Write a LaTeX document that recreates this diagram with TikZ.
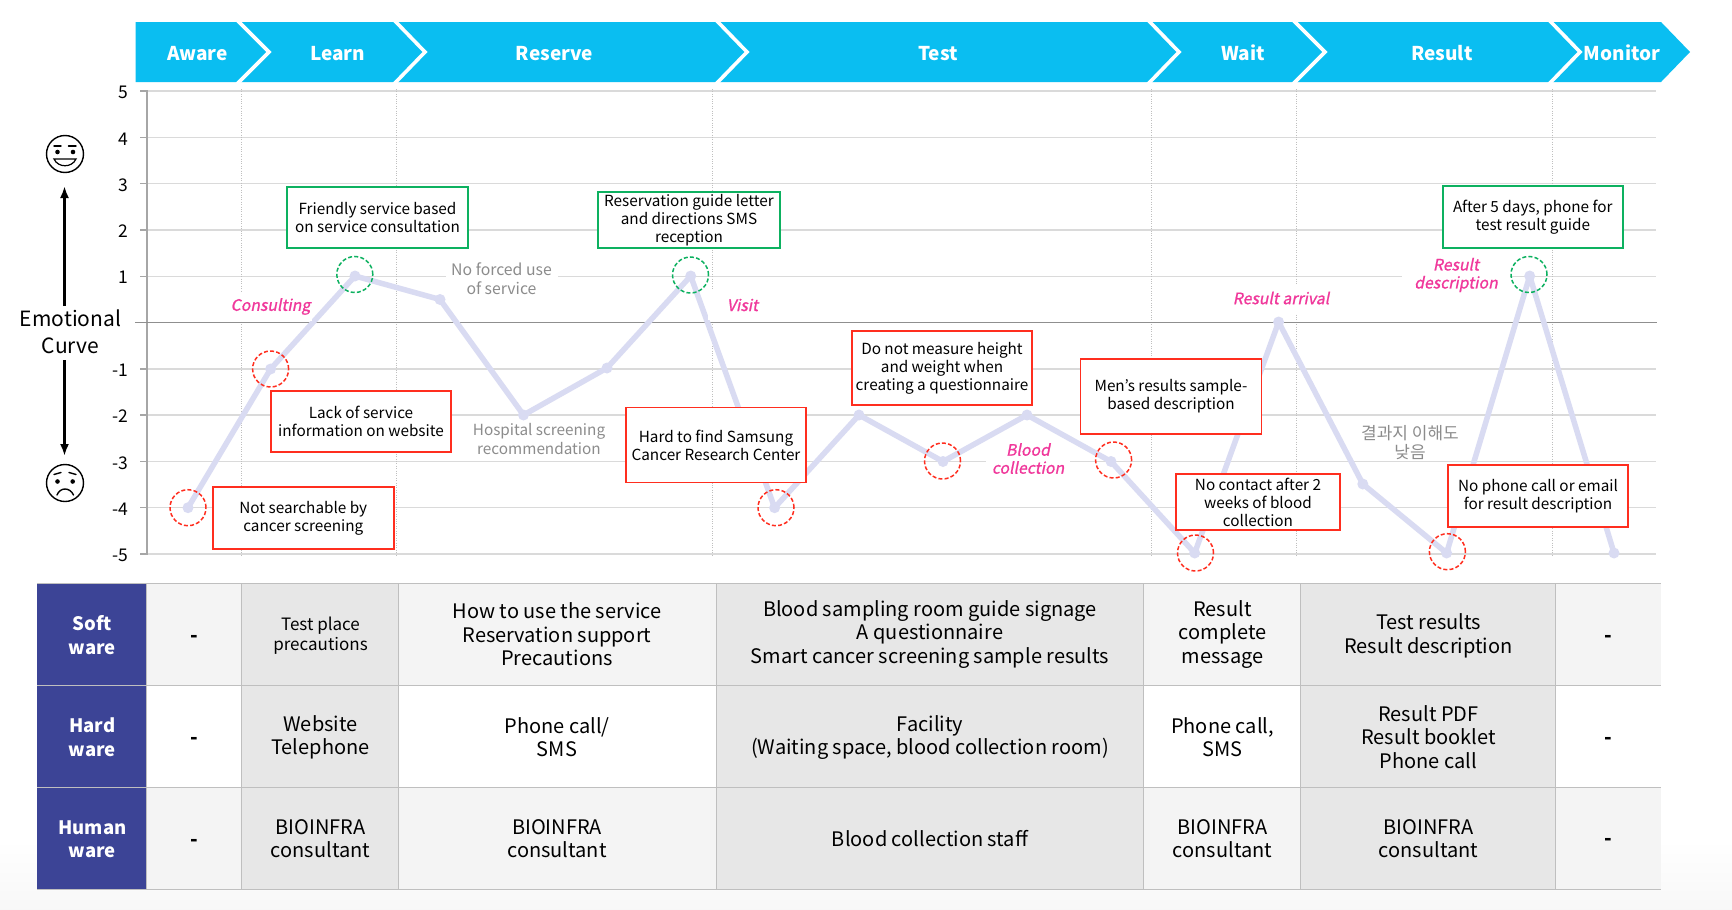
\documentclass[tikz,border=0pt]{standalone}
\usepackage{fontspec}
\setmainfont{Noto Sans CJK KR}
\newfontfamily\pinkfont[FakeSlant=0.2,FakeBold=1.0]{Noto Sans CJK KR}
\usetikzlibrary{arrows.meta}
\definecolor{chev}{HTML}{0ABEF1}
\definecolor{navy}{HTML}{3C4496}
\definecolor{redb}{HTML}{FF2E1F}
\definecolor{greenb}{HTML}{0DB160}
\definecolor{curvec}{HTML}{D9DBF2}
\definecolor{gridc}{HTML}{DADADA}
\definecolor{axisc}{HTML}{A6A6A6}
\definecolor{zeroc}{HTML}{8F8F8F}
\definecolor{tline}{HTML}{BFBFBF}
\definecolor{cellL}{HTML}{F4F4F4}
\definecolor{cellD}{HTML}{E7E7E7}
\definecolor{pink}{HTML}{F0389B}
\definecolor{greytxt}{HTML}{8C8C8C}
\tikzset{
  x=1pt,y=-1pt,
  every node/.style={inner sep=0pt,outer sep=0pt,align=center},
  chevtext/.style={text=white,font=\fontsize{19}{22}\selectfont\bfseries},
  ticktext/.style={anchor=east,font=\fontsize{17.5}{20}\selectfont},
  gridrule/.style={gridc,line width=1.2pt},
  stage/.style={draw=tline,line width=1pt,dash pattern=on 1pt off 1.4pt},
  curveline/.style={curvec,line width=5.5pt,line join=round},
  pt/.style={circle,fill=curvec,minimum size=11pt},
  ring/.style={circle,line width=1.5pt,minimum size=36pt,dash pattern=on 4pt off 2.2pt},
  badring/.style={ring,draw=redb},
  goodring/.style={ring,draw=greenb},
  callout/.style={fill=white,line width=1.8pt,font=\fontsize{15.3}{18}\selectfont},
  lowered/.style={execute at begin node={\rule{0pt}{17.5pt}}},
  badbox/.style={callout,draw=redb},
  goodbox/.style={callout,draw=greenb},
  pinktext/.style={fill=white,text=pink,font=\fontsize{15.8}{18}\selectfont\pinkfont},
  greytext/.style={fill=white,text=greytxt,font=\fontsize{15.8}{18.5}\selectfont},
  celltext/.style={font=\fontsize{20}{23.5}\selectfont},
  headtext/.style={text=white,font=\fontsize{18.5}{23.5}\selectfont\bfseries},
  dashtext/.style={font=\fontsize{20}{23.5}\selectfont\bfseries},
  tablerule/.style={tline,line width=1pt},
  facepen/.style={black,line width=1.4pt,line cap=round},
  bigarrow/.style={black,line width=2.4pt,-{Latex[length=12pt,width=9pt]}}
}
\begin{document}
\begin{tikzpicture}
\useasboundingbox (0,0) rectangle (1732,910);
\fill[white] (0,0) rectangle (1732,910);
\shade[top color=white,bottom color=black!3] (0,840) rectangle (1732,910);

% chevron band
\fill[chev] (135.5,22)--(1661,22)--(1690,52)--(1661,82)--(135.5,82)--cycle;
\foreach \a/\b in {237/269,394/425,716/747,1148/1179,1293/1325,1549/1580}
  \draw[white,line width=3.6pt,miter limit=10] (\a,20)--(\b,52)--(\a,84);
\node[chevtext] (sAware) at (197.5,54) {Aware};
\node[chevtext] (sLearn) at (337.5,54) {Learn};
\node[chevtext] (sReserve) at (554.5,54) {Reserve};
\node[chevtext] (sTest) at (938,54) {Test};
\node[chevtext] (sWait) at (1243,53) {Wait};
\node[chevtext] (sResult) at (1442,53) {Result};
\node[chevtext] (sMonitor) at (1622,53) {Monitor};

% grid
\foreach \v/\y in {5/91,4/137.3,3/183.6,2/230,1/276.2,-1/369,-2/415,-3/461.5,-4/507.7,-5/554}{
  \draw[gridrule] (146.6,\y)--(1656,\y);
  \draw[axisc,line width=1.4pt] (140,\y)--(146.6,\y);
  \node[ticktext] at (128,\y+1.5) {\v};
}
\foreach \x in {241,396,712,1151.6,1296,1552}
  \draw[stage] (\x,89)--(\x,555);
\draw[axisc,line width=2pt] (146.6,90)--(146.6,555);
\draw[zeroc,line width=1.7pt] (135,322.5)--(1657,322.5);

% curve
\coordinate (p1) at (188,507.7);
\coordinate (p2) at (270.6,369);
\coordinate (p3) at (355,276);
\coordinate (p4) at (440,299.5);
\coordinate (p5) at (523.5,415);
\coordinate (p6) at (607,368);
\coordinate (p7) at (690.7,276);
\coordinate (p8) at (774.6,507.7);
\coordinate (p9) at (859,415);
\coordinate (p10) at (943,461.5);
\coordinate (p11) at (1027,415);
\coordinate (p12) at (1111,461.5);
\coordinate (p13) at (1194.7,553);
\coordinate (p14) at (1278.6,322);
\coordinate (p15) at (1362.8,484);
\coordinate (p16) at (1446.6,553);
\coordinate (p17) at (1529.7,276);
\coordinate (p18) at (1614,553);
\draw[curveline] (p1)--(p2)--(p3)--(p4)--(p5)--(p6)--(p7)--(p8)--(p9)--(p10)--(p11)--(p12)--(p13)--(p14)--(p15)--(p16)--(p17)--(p18);
\foreach \i in {1,...,18} \node[pt] (m\i) at (p\i) {};

% rings
\node[badring] (c1) at (188,507.7) {};
\node[badring] (c2) at (270.6,369) {};
\node[goodring] (c3) at (354.8,274.5) {};
\node[goodring] (c4) at (690.5,275) {};
\node[badring] (c5) at (776,507.7) {};
\node[badring] (c6) at (942.5,461) {};
\node[badring] (c7) at (1113.6,460) {};
\node[badring] (c8) at (1195.5,553) {};
\node[badring] (c9) at (1447.4,551.7) {};
\node[goodring] (c10) at (1529,274.5) {};

% grey and pink labels
\node[greytext,minimum width=112pt] (gForced) at (501.5,278.5) {No forced use\\of service};
\node[greytext,minimum width=134pt,font=\fontsize{15.3}{18.5}\selectfont] (gHospital) at (539,439) {Hospital screening\\recommendation};
\node[greytext,fill=none,font=\fontsize{17}{19}\selectfont] (gKorean) at (1410,443) {결과지 이해도\\낮음};
\node[pinktext,minimum width=82pt,minimum height=28pt] (lConsult) at (270.5,306.5) {Consulting};
\node[pinktext,minimum width=70pt,minimum height=30pt] (lVisit) at (742.5,305) {Visit};
\node[pinktext,minimum width=84pt] (lBlood) at (1028,458.5) {Blood\\collection};
\node[pinktext,minimum height=29pt] (lArrival) at (1281,298) {Result arrival};
\node[pinktext,minimum width=108pt] (lDesc) at (1456,275) {Result\\description};

% callouts
\node[goodbox,minimum width=181pt,minimum height=61pt] (b1) at (377.5,217.3) {Friendly service based\\on service consultation};
\node[goodbox,lowered,minimum width=182pt,minimum height=56pt] (b2) at (689,220) {Reservation guide letter\\and directions SMS\\reception};
\node[goodbox,lowered,minimum width=180pt,minimum height=62pt] (b3) at (1532.8,217) {After 5 days, phone for\\test result guide};
\node[badbox,minimum width=180pt,minimum height=61pt] (b4) at (361,421.3) {Lack of service\\information on website};
\node[badbox,lowered,minimum width=181pt,minimum height=62pt] (b5) at (303.3,518) {Not searchable by\\cancer screening};
\node[badbox,minimum width=180.7pt,minimum height=75pt] (b6) at (716,445) {Hard to find Samsung\\Cancer Research Center};
\node[badbox,minimum width=180.2pt,minimum height=74pt] (b7) at (942,368) {Do not measure height\\and weight when\\creating a questionnaire};
\node[badbox,lowered,minimum width=181pt,minimum height=75pt] (b8) at (1171,396.5) {Men's results sample-\\based description};
\node[badbox,minimum width=164pt,minimum height=56pt] (b9) at (1258,502) {No contact after 2\\weeks of blood\\collection};
\node[badbox,lowered,minimum width=180pt,minimum height=62pt] (b10) at (1538,496) {No phone call or email\\for result description};

% left axis title and faces
\node[font=\fontsize{21}{27.5}\selectfont] (title) at (70.5,332) {Emotional\\Curve};
\coordinate (upstart) at (64.5,306);
\coordinate (upend) at (64.5,186);
\coordinate (downstart) at (64.5,360);
\coordinate (downend) at (64.5,456);
\draw[bigarrow] (upstart)--(upend);
\draw[bigarrow] (downstart)--(downend);
% happy face
\draw[facepen] (65,154) ellipse (18.5 and 18.5);
\draw[facepen] (54,146)--(61,146) (68.5,146)--(76,146);
\fill (57.5,152) circle (2.3);
\fill (73,152) circle (2.3);
\draw[facepen,fill=white,line width=1.2pt] (54,159) .. controls (58,168) and (72,168) .. (76,159) -- cycle;
% sad face
\draw[facepen] (65,483) ellipse (18.5 and 18.5);
\draw[facepen] (54,474.5)--(61,472.5) (69,472.5)--(76,474.5);
\fill (57.5,481.5) circle (2.3);
\fill (72.7,481.5) circle (2.3);
\draw[facepen] (57,495) .. controls (60,487) and (70,487) .. (73.5,495);

% table fills
\def\ya{583.5}\def\yb{685.3}\def\yc{787.3}\def\yd{889.3}
\foreach \a/\b/\cc in {146/241.5/cellL,398.7/716/cellL,1143.5/1300/cellL,1555.5/1661/cellL}{
  \fill[\cc] (\a,\ya) rectangle (\b,\yb);
  \fill[white] (\a,\yb) rectangle (\b,\yc);
  \fill[\cc] (\a,\yc) rectangle (\b,\yd);
}
\foreach \a/\b in {241.5/398.7,716/1143.5,1300/1555.5}
  \fill[cellD] (\a,\ya) rectangle (\b,\yd);
\fill[navy] (37,\ya) rectangle (146,\yd);
\foreach \y in {\ya,\yb,\yc,\yd} \draw[tablerule] (37,\y)--(1661,\y);
\foreach \x in {146,241.5,398.7,716,1143.5,1300,1555.5} \draw[tablerule] (\x,\ya)--(\x,\yd);

% table text
\node[headtext] (h1) at (92.4,635) {Soft\\ware};
\node[headtext] (h2) at (92.4,737) {Hard\\ware};
\node[headtext] (h3) at (92.4,839) {Human\\ware};
\node[dashtext] (t11) at (194,639) {-};
\node[dashtext] (t21) at (194,741) {-};
\node[dashtext] (t31) at (194,843) {-};
\node[celltext,font=\fontsize{17}{20}\selectfont] (t12) at (320.5,635.5) {Test place\\precautions};
\node[celltext] (t22) at (320.5,737.5) {Website\\Telephone};
\node[celltext] (t32) at (320.5,838.5) {BIOINFRA\\consultant};
\node[celltext] (t13) at (557,634.5) {How to use the service\\Reservation support\\Precautions};
\node[celltext] (t23) at (557,737) {Phone call/\\SMS};
\node[celltext] (t33) at (557,838.5) {BIOINFRA\\consultant};
\node[celltext] (t14) at (930,634.5) {Blood sampling room guide signage\\A questionnaire\\Smart cancer screening sample results};
\node[celltext] (t24) at (930,737.5) {Facility\\(Waiting space, blood collection room)};
\node[celltext] (t34) at (930,838.5) {Blood collection staff};
\node[celltext] (t15) at (1222.5,634.5) {Result\\complete\\message};
\node[celltext] (t25) at (1222.5,737) {Phone call,\\SMS};
\node[celltext] (t35) at (1222.5,838.5) {BIOINFRA\\consultant};
\node[celltext] (t16) at (1428.5,636) {Test results\\Result description};
\node[celltext] (t26) at (1428.5,737) {Result PDF\\Result booklet\\Phone call};
\node[celltext] (t36) at (1428.5,838.5) {BIOINFRA\\consultant};
\node[dashtext] (t17) at (1608.7,639) {-};
\node[dashtext] (t27) at (1608.7,741) {-};
\node[dashtext] (t37) at (1608.7,842) {-};
\end{tikzpicture}
\end{document}
